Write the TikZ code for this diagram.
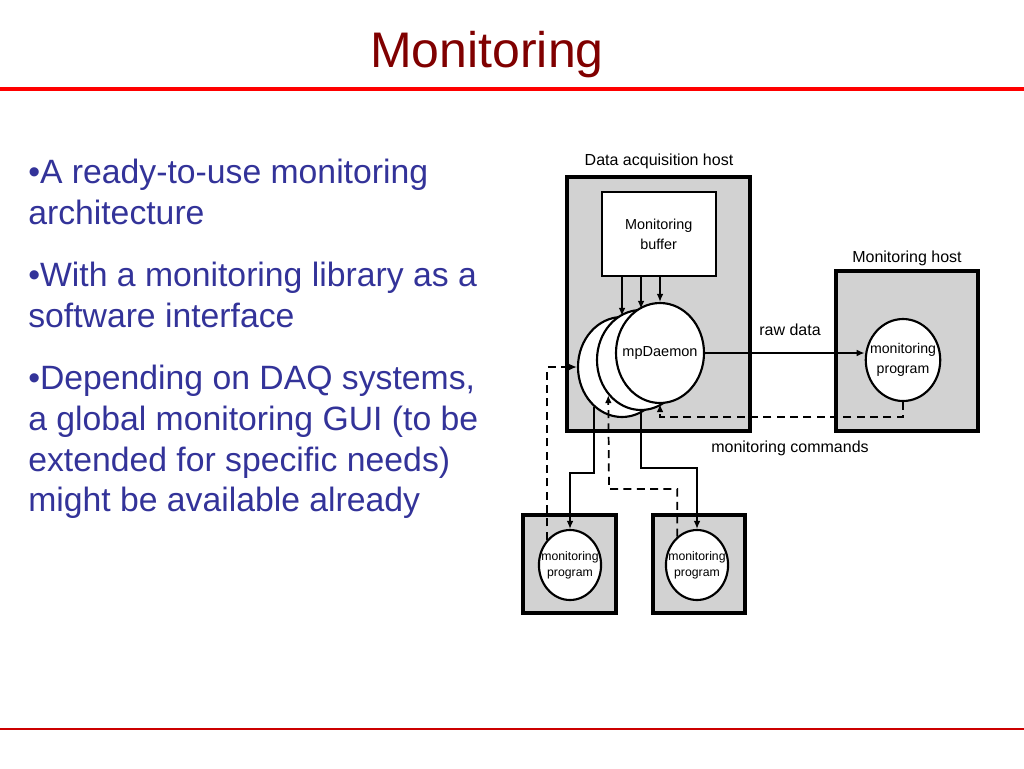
\documentclass[tikz,border=0pt]{standalone}
\usepackage{fontspec}
\setmainfont{Liberation Sans}
\usetikzlibrary{shapes.geometric,arrows.meta}

\definecolor{titlered}{RGB}{128,0,0}
\definecolor{bulletblue}{RGB}{51,51,153}
\definecolor{hostgray}{RGB}{210,210,210}

\tikzset{
  host/.style={draw, line width=2.3pt, fill=hostgray, inner sep=0pt},
  proc/.style={draw, ellipse, line width=1.6pt, fill=white, inner ysep=0pt, inner xsep=-5pt, align=center},
  flow/.style={line width=1.3pt, -{Latex[length=6pt,width=5pt]}},
  cmdflow/.style={flow, dash pattern=on 6pt off 4pt},
  lbl/.style={font=\fontsize{12}{14}\selectfont},
  bullet/.style={anchor=base west, text=bulletblue, inner sep=0pt,
    font=\fontsize{25.3}{30}\selectfont},
}

\begin{document}
\begin{tikzpicture}[x=0.75pt, y=-0.75pt]
    \useasboundingbox (0,0) rectangle (1024,768);

    % --- Title ---
    \node[anchor=base, text=titlered, font=\fontsize{37.5}{40}\selectfont] (title) at (487,67) {Monitoring};
    \draw[red, line width=3pt] (0,89) -- (1024,89);
    \draw[red!80!black, line width=0.8pt] (0,729) -- (1024,729);

    % --- Bullets ---
    \foreach \txt [count=\i] in {{\textbullet A ready-to-use monitoring}, {architecture},
        {\textbullet With a monitoring library as a}, {software interface},
        {\textbullet Depending on DAQ systems,}, {a global monitoring GUI (to be},
        {extended for specific needs)}, {might be available already}}
    {
        \ifcase\i\or\def\ypos{183}\or\def\ypos{224}\or\def\ypos{286}\or\def\ypos{327}%
        \or\def\ypos{389}\or\def\ypos{430}\or\def\ypos{471}\or\def\ypos{511}\fi
        \node[bullet] (line\i) at (28,\ypos) {\txt};
    }

    % --- Data acquisition host ---
    \node[host, minimum width=137.25pt, minimum height=190.5pt] (daq) at (658.5,304) {};
    \node[lbl] (daqlbl) at (659,161) {Data acquisition host};
    \node[draw, fill=white, line width=1.2pt, minimum width=85.5pt, minimum height=63pt,
          align=center, font=\fontsize{10.8}{15}\selectfont] (buffer) at (658.7,234) {Monitoring\\buffer};

    % mpDaemon (drei Kopien, hinten nach vorn)
    \node[proc, minimum width=66pt, minimum height=75pt] (back) at (622,367) {};
    \node[proc, minimum width=66pt, minimum height=75pt] (middle) at (641,360) {};
    \node[proc, minimum width=66pt, minimum height=75pt, font=\fontsize{10.9}{13}\selectfont] (front) at (660,353) {mpDaemon};

    \foreach \c in {back,middle,front}
        \draw[flow] (buffer.south -| \c.north) -- (\c.north);

    % --- Monitoring host ---
    \node[host, minimum width=106.5pt, minimum height=120pt] (mhost) at (907,351) {};
    \node[lbl] (mhostlbl) at (907,258) {Monitoring host};
    \node[proc, minimum width=55.5pt, minimum height=61.5pt, font=\fontsize{10.6}{15}\selectfont] (mhprog) at (903,360) {monitoring\\program};

    \draw[flow] (front.east) -- (front.east -| mhprog.west);
    \node[lbl] (rawlbl) at (790,330) {raw data};

    \coordinate (cmdbend) at (660,417);
    \draw[cmdflow] (mhprog.south) |- (cmdbend) -- (front.south);
    \node[lbl] (cmdlbl) at (790,448) {monitoring commands};

    % --- Bottom hosts ---
    \node[host, minimum width=69.75pt, minimum height=73.5pt] (lhost) at (569.5,564) {};
    \node[host, minimum width=69pt, minimum height=73.5pt] (rhost) at (699,564) {};
    \node[proc, minimum width=45pt, minimum height=52.5pt, font=\fontsize{9.2}{12}\selectfont] (lprog) at (570,565) {monitoring\\program};
    \node[proc, minimum width=45pt, minimum height=52.5pt, font=\fontsize{9.2}{12}\selectfont] (rprog) at (697,565) {monitoring\\program};

    % Datenfluss nach unten
    \coordinate (lbend) at (570,473);
    \coordinate (rbend) at (697,468);
    \draw[flow] (back.235) |- (lbend) -- (lprog.north);
    \draw[flow] (middle.south) |- (rbend) -- (rprog.north);

    % Kommandos nach oben
    \coordinate (rdash) at (609,489);
    \draw[cmdflow] (lprog.132) |- (back.west);
    \draw[cmdflow] (rprog.125) |- (rdash) -- (middle.227);

\end{tikzpicture}
\end{document}
